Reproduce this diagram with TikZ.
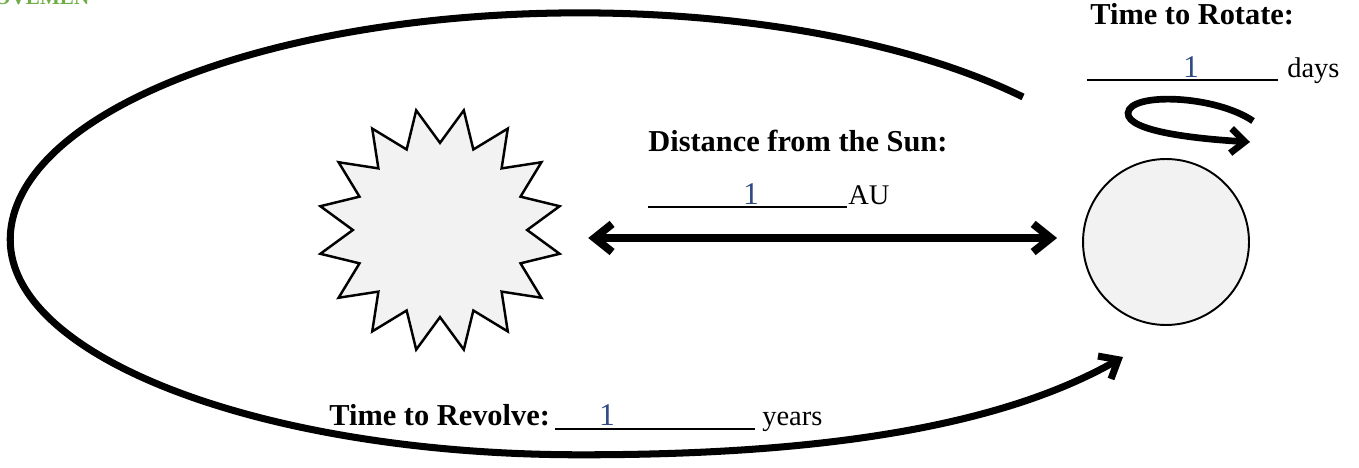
\documentclass[tikz,border=0pt]{standalone}
\usepackage{fontspec}
\setmainfont{Liberation Serif}
\usepackage{tikz}
\usetikzlibrary{shapes.geometric, arrows.meta, positioning}
\definecolor{sungray}{RGB}{242,242,242}
\definecolor{numblue}{RGB}{47,75,130}
\definecolor{headgreen}{RGB}{112,173,71}
\tikzset{
  sunstar/.style={star, star points=16, star point ratio=1.4, shape border rotate=11.25,
    minimum size=4.88cm, inner sep=0pt, draw, fill=sungray, line width=1.4pt},
  planet/.style={circle, draw, fill=sungray, minimum size=3.32cm, inner sep=0pt, line width=1.1pt},
  question/.style={font=\fontsize{17.3}{20}\selectfont\bfseries, inner sep=0pt, anchor=base west},
  unitlabel/.style={font=\fontsize{16.2}{19}\selectfont, inner sep=0pt, anchor=base west},
  answer/.style={font=\fontsize{18}{21}\selectfont, text=numblue, inner sep=0pt, anchor=base},
  blankline/.style={line width=1.2pt},
  orbitpath/.style={line width=4pt, -{Straight Barb[sharp, length=9pt, width=15pt]}},
  spinpath/.style={line width=3.8pt, -{Straight Barb[sharp, length=8pt, width=14pt]}},
  distarrow/.style={line width=4.5pt, {Straight Barb[sharp, length=10pt, width=16pt]}-{Straight Barb[sharp, length=10pt, width=16pt]},
    shorten <=1.18cm, shorten >=0.5cm}
}

\begin{document}
\begin{tikzpicture}[x=0.02cm, y=0.02cm]
  \useasboundingbox (0,0) rectangle (1359,467);

  \node [font=\fontsize{12}{14}\selectfont\bfseries, text=headgreen, inner sep=0pt, anchor=base west] (heading) at (-6,462) {OVEMEN};

  \node [sunstar] (sun) at (440,237) {};
  \node [planet] (earth) at (1166,225) {};

  % orbit round the sun
  \coordinate (orbitstart) at (1023,370);
  \coordinate (orbitend) at (1123,110);
  \draw [orbitpath] (orbitstart) arc[start angle=39, end angle=180, x radius=11.4cm, y radius=4.54cm]
    arc[start angle=180, end angle=270, x radius=11.4cm, y radius=4.3cm]
    .. controls (820,12) and (1000,40) .. (orbitend);

  % spin of the earth
  \coordinate (spinstart) at (1253,346);
  \coordinate (spinend) at (1250,325);
  \draw [spinpath] (spinstart) .. controls (1215,372) and (1130,375) .. (1128,354)
    .. controls (1127,335) and (1200,328) .. (spinend);

  \draw [distarrow] ([yshift=-0.16cm]sun.east) -- ([yshift=0.08cm]earth.west);

  % distance
  \node [question] (distq) at (648,315) {Distance from the Sun:};
  \coordinate (distl) at (648,260);
  \coordinate (distr) at (847,260);
  \draw [blankline] (distl) -- (distr);
  \node [answer] (distans) at (751,262) {1};
  \node [unitlabel] (distunit) at (848,262) {AU};

  % rotation
  \node [question] (rotq) at (1090,442) {Time to Rotate:};
  \coordinate (rotl) at (1087,387);
  \coordinate (rotr) at (1278,387);
  \draw [blankline] (rotl) -- (rotr);
  \node [answer] (rotans) at (1191,389) {1};
  \node [unitlabel] (rotunit) at (1287,389) {days};

  % revolution
  \node [question] (revq) at (329,42) {Time to Revolve:};
  \coordinate (revl) at (555,38);
  \coordinate (revr) at (755,38);
  \draw [blankline] (revl) -- (revr);
  \node [answer] (revans) at (607,42) {1};
  \node [unitlabel] (revunit) at (762,42) {years};
\end{tikzpicture}
\end{document}
